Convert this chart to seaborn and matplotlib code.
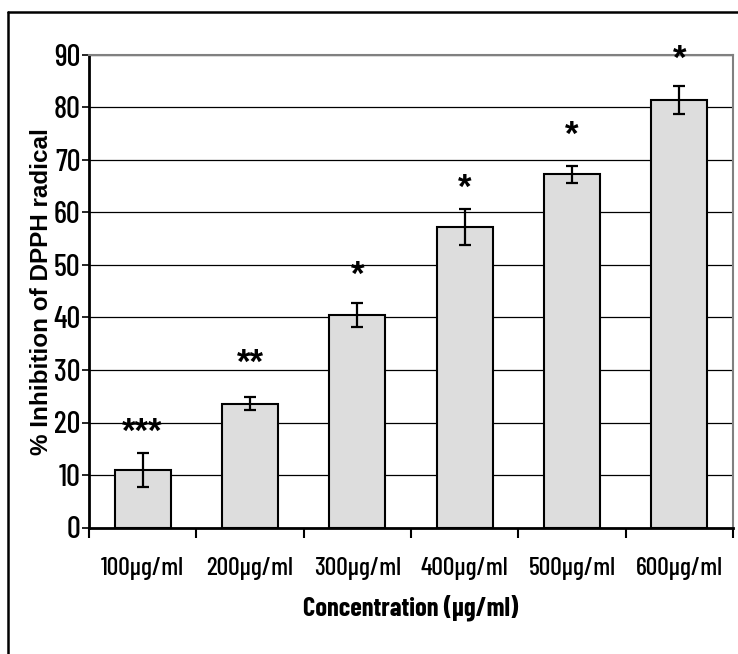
import matplotlib
matplotlib.use("Agg")
import matplotlib.pyplot as plt
import seaborn as sns
import pandas as pd
import numpy as np
from matplotlib.lines import Line2D

categories = ["100µg/ml", "200µg/ml", "300µg/ml", "400µg/ml", "500µg/ml", "600µg/ml"]
inhibition = [11.0, 23.6, 40.4, 57.3, 67.3, 81.4]
errors = [3.2, 1.2, 2.3, 3.4, 1.6, 2.7]
stars = ["***", "**", "*", "*", "*", "*"]
star_heights = [20.2, 33.3, 50.0, 66.7, 76.8, 91.2]
y_ticks = [0, 10, 20, 30, 40, 50, 60, 70, 80, 90]

df = pd.DataFrame({"Concentration": categories, "Inhibition": inhibition})

sns.set_theme(style="white")
plt.rcParams["font.family"] = ["Liberation Sans", "DejaVu Sans"]
plt.rcParams["text.color"] = "black"
plt.rcParams["axes.labelcolor"] = "black"
plt.rcParams["xtick.color"] = "black"
plt.rcParams["ytick.color"] = "black"

fig = plt.figure(figsize=(7.38, 6.54), dpi=100)
ax = fig.add_axes([89 / 738, 1 - 527.5 / 654, (733 - 89) / 738, (527.5 - 55) / 654])

sns.barplot(data=df, x="Concentration", y="Inhibition", ax=ax, width=0.52,
            color="#dddddd", edgecolor="black", linewidth=1.5, saturation=1,
            errorbar=None, zorder=3)
for p in ax.patches:
    p.set_facecolor("#dddddd")

pos = np.arange(len(categories))
ax.errorbar(pos, inhibition, yerr=errors, fmt="none", ecolor="black",
            elinewidth=1.6, capsize=4, capthick=1.6, zorder=4)

narrow = ["Barlow Condensed", "DejaVu Sans"]
fs_star = 25
for x, s, h in zip(pos, stars, star_heights):
    ax.annotate(s, xy=(x, h), xytext=(0, -0.58 * fs_star), textcoords="offset points",
                ha="center", va="baseline", fontsize=fs_star, fontweight="bold",
                family="Liberation Sans", annotation_clip=False, zorder=6)

ax.set_xlim(-0.5, len(categories) - 0.5)
ax.set_ylim(0, 90)
ax.set_yticks(y_ticks)
ax.yaxis.grid(True, color="black", linewidth=0.9)
ax.set_axisbelow(True)

ax.set_yticklabels([str(t) for t in y_ticks], family=narrow, fontsize=22,
                   fontweight="medium")
ax.tick_params(axis="y", which="major", direction="out", length=5, width=1.2,
               color="black", left=True, pad=1)

ax.set_xticks(pos)
ax.set_xticklabels(categories, family=narrow, fontsize=18.5, fontweight="medium")
ax.tick_params(axis="x", which="major", length=0, pad=21)
ax.set_xticks(np.arange(-0.5, len(categories) + 0.5, 1.0), minor=True)
ax.tick_params(axis="x", which="minor", direction="out", length=7, width=1.5,
               color="black", bottom=True)

for side in ["left", "bottom"]:
    ax.spines[side].set_color("black")
    ax.spines[side].set_linewidth(2)
for side in ["top", "right"]:
    ax.spines[side].set_color("#808080")
    ax.spines[side].set_linewidth(1.5)
    ax.spines[side].set_visible(True)

ax.set_xlabel("Concentration (µg/ml)", family=narrow, fontsize=19,
              fontweight="bold", labelpad=11)
ax.set_ylabel("% Inhibition of DPPH radical", family=["Liberation Sans", "DejaVu Sans"],
              fontsize=17.5, fontweight="bold", labelpad=0)

# outer frame (visible left and top edges)
fig.add_artist(Line2D([8 / 738, 8 / 738], [0, 1 - 12 / 654], transform=fig.transFigure,
                      color="black", linewidth=1.8))
fig.add_artist(Line2D([8 / 738, 1], [1 - 12 / 654, 1 - 12 / 654], transform=fig.transFigure,
                      color="black", linewidth=1.8))

fig.savefig("out.png", dpi=100, facecolor="white")
